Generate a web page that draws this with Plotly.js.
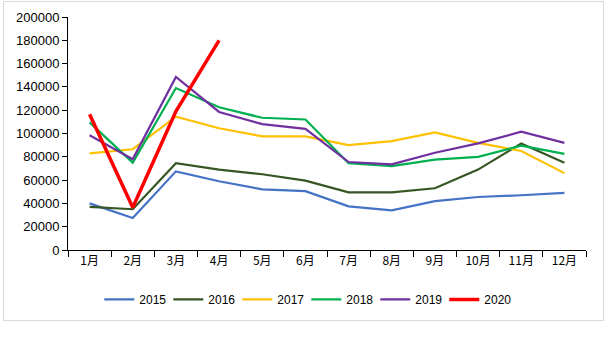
<!DOCTYPE html>
<html>
<head>
<meta charset="utf-8">
<script src="https://cdn.plot.ly/plotly-3.0.1.min.js"></script>
<style>
html,body{margin:0;padding:0;background:#fff;}
#frame{position:absolute;left:3px;top:1px;width:599px;height:318px;border:1px solid #d9d9d9;}
#chart{position:absolute;left:0;top:0;width:609px;height:351px;}
</style>
</head>
<body>
<div id="frame"></div>
<div id="chart"></div>
<script>
const months = ['1月','2月','3月','4月','5月','6月','7月','8月','9月','10月','11月','12月'];
const y2015 = [40000, 27500, 67500, 59000, 52000, 50500, 37500, 34000, 42000, 45500, 47000, 49000];
const y2016 = [37000, 35000, 74500, 69000, 65000, 59500, 49500, 49500, 53000, 69000, 91500, 75000];
const y2017 = [83000, 86500, 114500, 104500, 97500, 97500, 90000, 93500, 101000, 92000, 85000, 66000];
const y2018 = [109500, 75000, 139000, 122500, 113500, 112000, 74500, 72000, 77500, 80000, 89500, 82500];
const y2019 = [98500, 78000, 148500, 118500, 108000, 104000, 75500, 73500, 83500, 91500, 101500, 92000];
const y2020 = [116500, 36500, 119000, 180000];
const names = ['2015','2016','2017','2018','2019','2020'];
const colors = ['#4472c4','#375623','#ffc000','#00b050','#7030a0','#ff0000'];
const series = [y2015, y2016, y2017, y2018, y2019, y2020];

const traces = series.map((ys, i) => ({
  type: 'scatter', mode: 'lines',
  x: months.slice(0, ys.length), y: ys, name: names[i],
  line: {color: colors[i], width: i === 5 ? 3.5 : 2.2}
}));

const layout = {
  width: 609, height: 351,
  margin: {l: 68, r: 23, t: 17, b: 101},
  paper_bgcolor: 'rgba(0,0,0,0)', plot_bgcolor: 'rgba(0,0,0,0)',
  font: {family: 'Liberation Sans, Arial, sans-serif', size: 13, color: '#000'},
  showlegend: true,
  legend: {orientation: 'h', x: 0.46, xanchor: 'center', y: -0.15, yanchor: 'top',
           entrywidth: 24, entrywidthmode: 'pixels',
           font: {size: 12, family: 'Liberation Sans, Arial, sans-serif'}, itemwidth: 30, tracegroupgap: 0},
  xaxis: {type: 'category', categoryorder: 'array', categoryarray: months,
          range: [-0.5, 11.5], showline: true, linecolor: '#000', linewidth: 1,
          ticks: 'outside', tickson: 'boundaries', ticklen: 6, tickcolor: '#000',
          showgrid: false, zeroline: false,
          tickfont: {family: 'Noto Sans CJK SC, sans-serif', size: 12}},
  yaxis: {range: [0, 200000], dtick: 20000, showline: true, linecolor: '#000', linewidth: 1,
          ticks: 'outside', ticklen: 5, tickcolor: '#000', showgrid: false, zeroline: false,
          tickformat: 'd', tickfont: {size: 13}}
};
Plotly.newPlot('chart', traces, layout, {displayModeBar: false, staticPlot: true});
</script>
</body>
</html>
